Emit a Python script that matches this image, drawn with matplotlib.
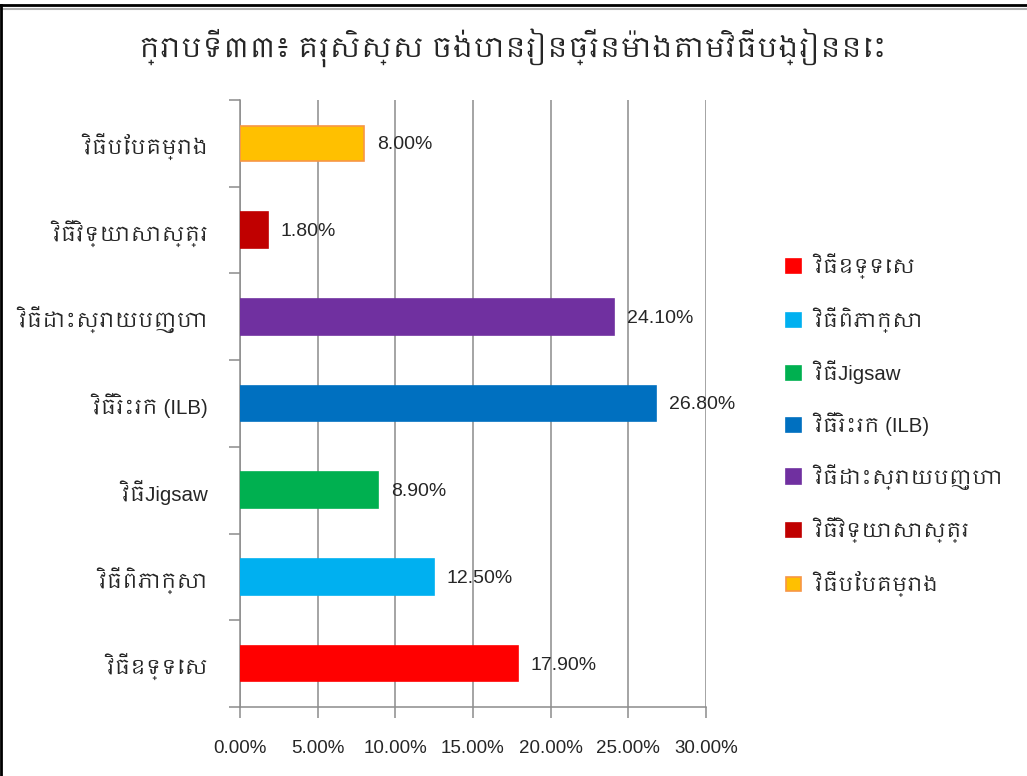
import matplotlib
matplotlib.use("Agg")
import matplotlib.pyplot as plt
from matplotlib import font_manager
from matplotlib.lines import Line2D
from matplotlib.patches import Patch
from matplotlib.ticker import FuncFormatter, FixedLocator

title = "ក្រាបទី៣៣៖ គរុសិស្ស ចង់បានរៀនច្រើនម៉ោងតាមវិធីបង្រៀននេះ"
methods = [
    "វិធីឧទ្ទេស",
    "វិធីពិភាក្សា",
    "វិធីJigsaw",
    "វិធីរិះរក (ILB)",
    "វិធីដោះស្រាយបញ្ហា",
    "វិធីវិទ្យាសាស្ត្រ",
    "វិធីបែបគម្រោង",
]
shares = [17.9, 12.5, 8.9, 26.8, 24.1, 1.8, 8.0]
colors = ["#FF0000", "#00B0F0", "#00B050", "#0070C0", "#7030A0", "#C00000", "#FFC000"]
edges = ["#FF0000", "#00B0F0", "#00B050", "#0070C0", "#7030A0", "#C00000", "#F79646"]
xticks = [0, 5, 10, 15, 20, 25, 30]

# Latin text in Liberation Sans, Khmer glyphs from a Khmer face if one is installed
khmer = [f.name for f in font_manager.fontManager.ttflist if "Khmer" in f.name]
plt.rcParams["font.family"] = ["Liberation Sans"] + khmer[:1] + ["DejaVu Sans"]

grid = "#8C8C8C"
text_c = "#262626"

fig = plt.figure(figsize=(10.27, 7.76), dpi=100)
ax = fig.add_axes([240 / 1027, 1 - 707 / 776, 466 / 1027, 607 / 776])

pos = list(range(len(methods)))
ax.barh(pos, shares, height=0.41, color=colors, edgecolor=edges, linewidth=1.2, zorder=3)
for y, v in zip(pos, shares):
    ax.annotate(f"{v:.2f}%", (v, y), xytext=(9, -1), textcoords="offset points",
                va="center", ha="left", fontsize=14, color=text_c, zorder=4)

ax.set_xlim(0, 30)
ax.set_ylim(-0.5, len(methods) - 0.5)
ax.xaxis.set_major_locator(FixedLocator(xticks))
ax.xaxis.set_major_formatter(FuncFormatter(lambda v, _: f"{v:.2f}%"))
ax.grid(axis="x", color=grid, linewidth=1.1, zorder=0)

ax.set_yticks(pos)
ax.set_yticklabels(methods, fontsize=14.8, color=text_c)
ax.set_yticks([p - 0.5 for p in pos] + [len(methods) - 0.5], minor=True)
ax.tick_params(axis="y", which="major", length=0, pad=23)
ax.tick_params(axis="y", which="minor", length=8, color=grid, width=1.1)
ax.tick_params(axis="x", length=8, color=grid, width=1.1, labelsize=13.5,
               labelcolor=text_c, pad=16)

for side in ("top", "right"):
    ax.spines[side].set_visible(False)
for side in ("left", "bottom"):
    ax.spines[side].set_color(grid)
    ax.spines[side].set_linewidth(1.1)

fig.text(513 / 1027, 1 - 48 / 776, title, ha="center", va="center",
         fontsize=20, color=text_c)

handles = [Patch(facecolor=c, edgecolor=e, linewidth=1.2) for c, e in zip(colors, edges)]
fig.legend(handles, methods, loc="upper left", bbox_to_anchor=(768 / 1027, 1 - 235 / 776),
           frameon=False, fontsize=14.7, labelspacing=1.36, handlelength=0.7,
           handleheight=0.7, handletextpad=0.7, labelcolor=text_c)

# frame along the top and left edges
fig.add_artist(Line2D([0, 1], [1 - 5 / 776] * 2, color="black", linewidth=2))
fig.add_artist(Line2D([0, 1], [1 - 9 / 776] * 2, color="#B0B0B0", linewidth=1.5))
fig.add_artist(Line2D([1 / 1027] * 2, [0, 1 - 5 / 776], color="black", linewidth=2))

fig.savefig("out.png", dpi=100)
